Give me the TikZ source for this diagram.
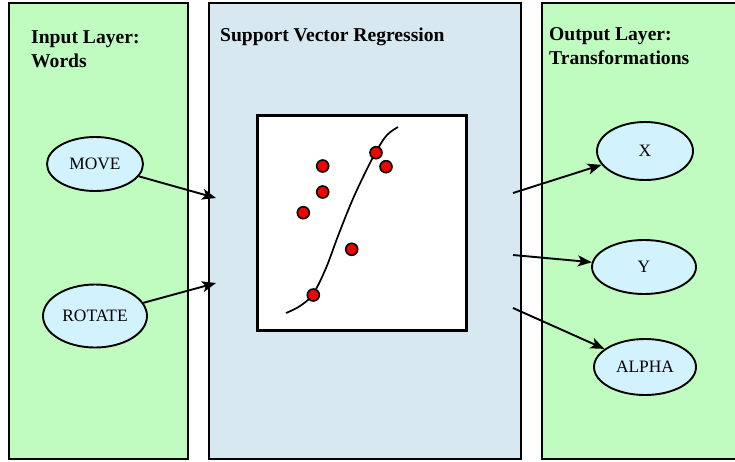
\documentclass[tikz,border=0pt]{standalone}
\usepackage{fontspec}
\setmainfont{Liberation Serif}
\usetikzlibrary{shapes.geometric,arrows.meta}
\definecolor{panelgreen}{RGB}{192,252,192}
\definecolor{panelblue}{RGB}{216,232,240}
\definecolor{wordfill}{RGB}{210,242,254}
\definecolor{dotred}{RGB}{240,0,0}
\tikzset{
  panel/.style={draw=black, line width=1.9pt},
  heading/.style={anchor=base west, inner sep=0pt, font=\fontsize{19.6}{23}\selectfont\bfseries},
  word/.style={ellipse, draw=black, line width=1.9pt, fill=wordfill, inner sep=0pt,
    font=\fontsize{17.4}{20}\selectfont},
  link/.style={line width=1.9pt, -{Stealth[length=14pt, width=11pt, inset=3.5pt]}},
  sample/.style={circle, draw=black, line width=1.6pt, fill=dotred, minimum size=12pt, inner sep=0pt}
}
\begin{document}
\begin{tikzpicture}[x=1pt, y=-1pt]
  \useasboundingbox (0,0) rectangle (735,461);
  \clip (0,0) rectangle (735,461);

  % three layer panels
  \draw[panel, fill=panelgreen] (9,3) rectangle (188,459);
  \draw[panel, fill=panelblue] (209,3) rectangle (521,459);
  \draw[panel, fill=panelgreen] (542,3) rectangle (745,459);

  % panel headings
  \node[heading] (inh1) at (31,43.5) {Input Layer:};
  \node[heading] (inh2) at (31,67.5) {Words};
  \node[heading] (svrh) at (220,41.5) {Support Vector Regression};
  \node[heading] (outh1) at (549,40) {Output Layer:};
  \node[heading] (outh2) at (549,64) {Transformations};

  % input words
  \node[word, minimum width=96pt, minimum height=54pt] (move) at (95,164) {MOVE};
  \node[word, minimum width=104pt, minimum height=63pt] (rotate) at (95,316) {ROTATE};

  % output transformations
  \node[word, minimum width=96pt, minimum height=58pt] (ox) at (645,151) {X};
  \node[word, minimum width=104pt, minimum height=54pt] (oy) at (644,267) {Y};
  \node[word, minimum width=102pt, minimum height=56pt] (oalpha) at (645,367) {ALPHA};

  % regression plot
  \node[draw=black, line width=2.2pt, fill=white, minimum width=209pt, minimum height=215pt,
        inner sep=0pt] (plot) at (362,223) {};
  \draw[line width=1.7pt] plot[smooth, tension=0.6] coordinates
    {(286,313) (300,306) (313,294) (326,268) (338,236) (352,201) (366,171) (377,150) (387,135) (398,127)};
  \node[sample] (s1) at (322.7,166) {};
  \node[sample] (s2) at (322.7,192) {};
  \node[sample] (s3) at (303.3,212.7) {};
  \node[sample] (s4) at (376,152.7) {};
  \node[sample] (s5) at (386,166.7) {};
  \node[sample] (s6) at (351.7,249.3) {};
  \node[sample] (s7) at (313.3,295) {};

  % connector ends on the regression panel
  \coordinate (in1) at (216,198);
  \coordinate (in2) at (216,283);
  \coordinate (out1) at (513,193);
  \coordinate (out2) at (513,255);
  \coordinate (out3) at (513,308);

  \draw[link] (move) -- (in1);
  \draw[link] (rotate) -- (in2);
  \draw[link] (out1) -- (ox);
  \draw[link] (out2) -- (oy);
  \draw[link] (out3) -- (oalpha);
\end{tikzpicture}
\end{document}
